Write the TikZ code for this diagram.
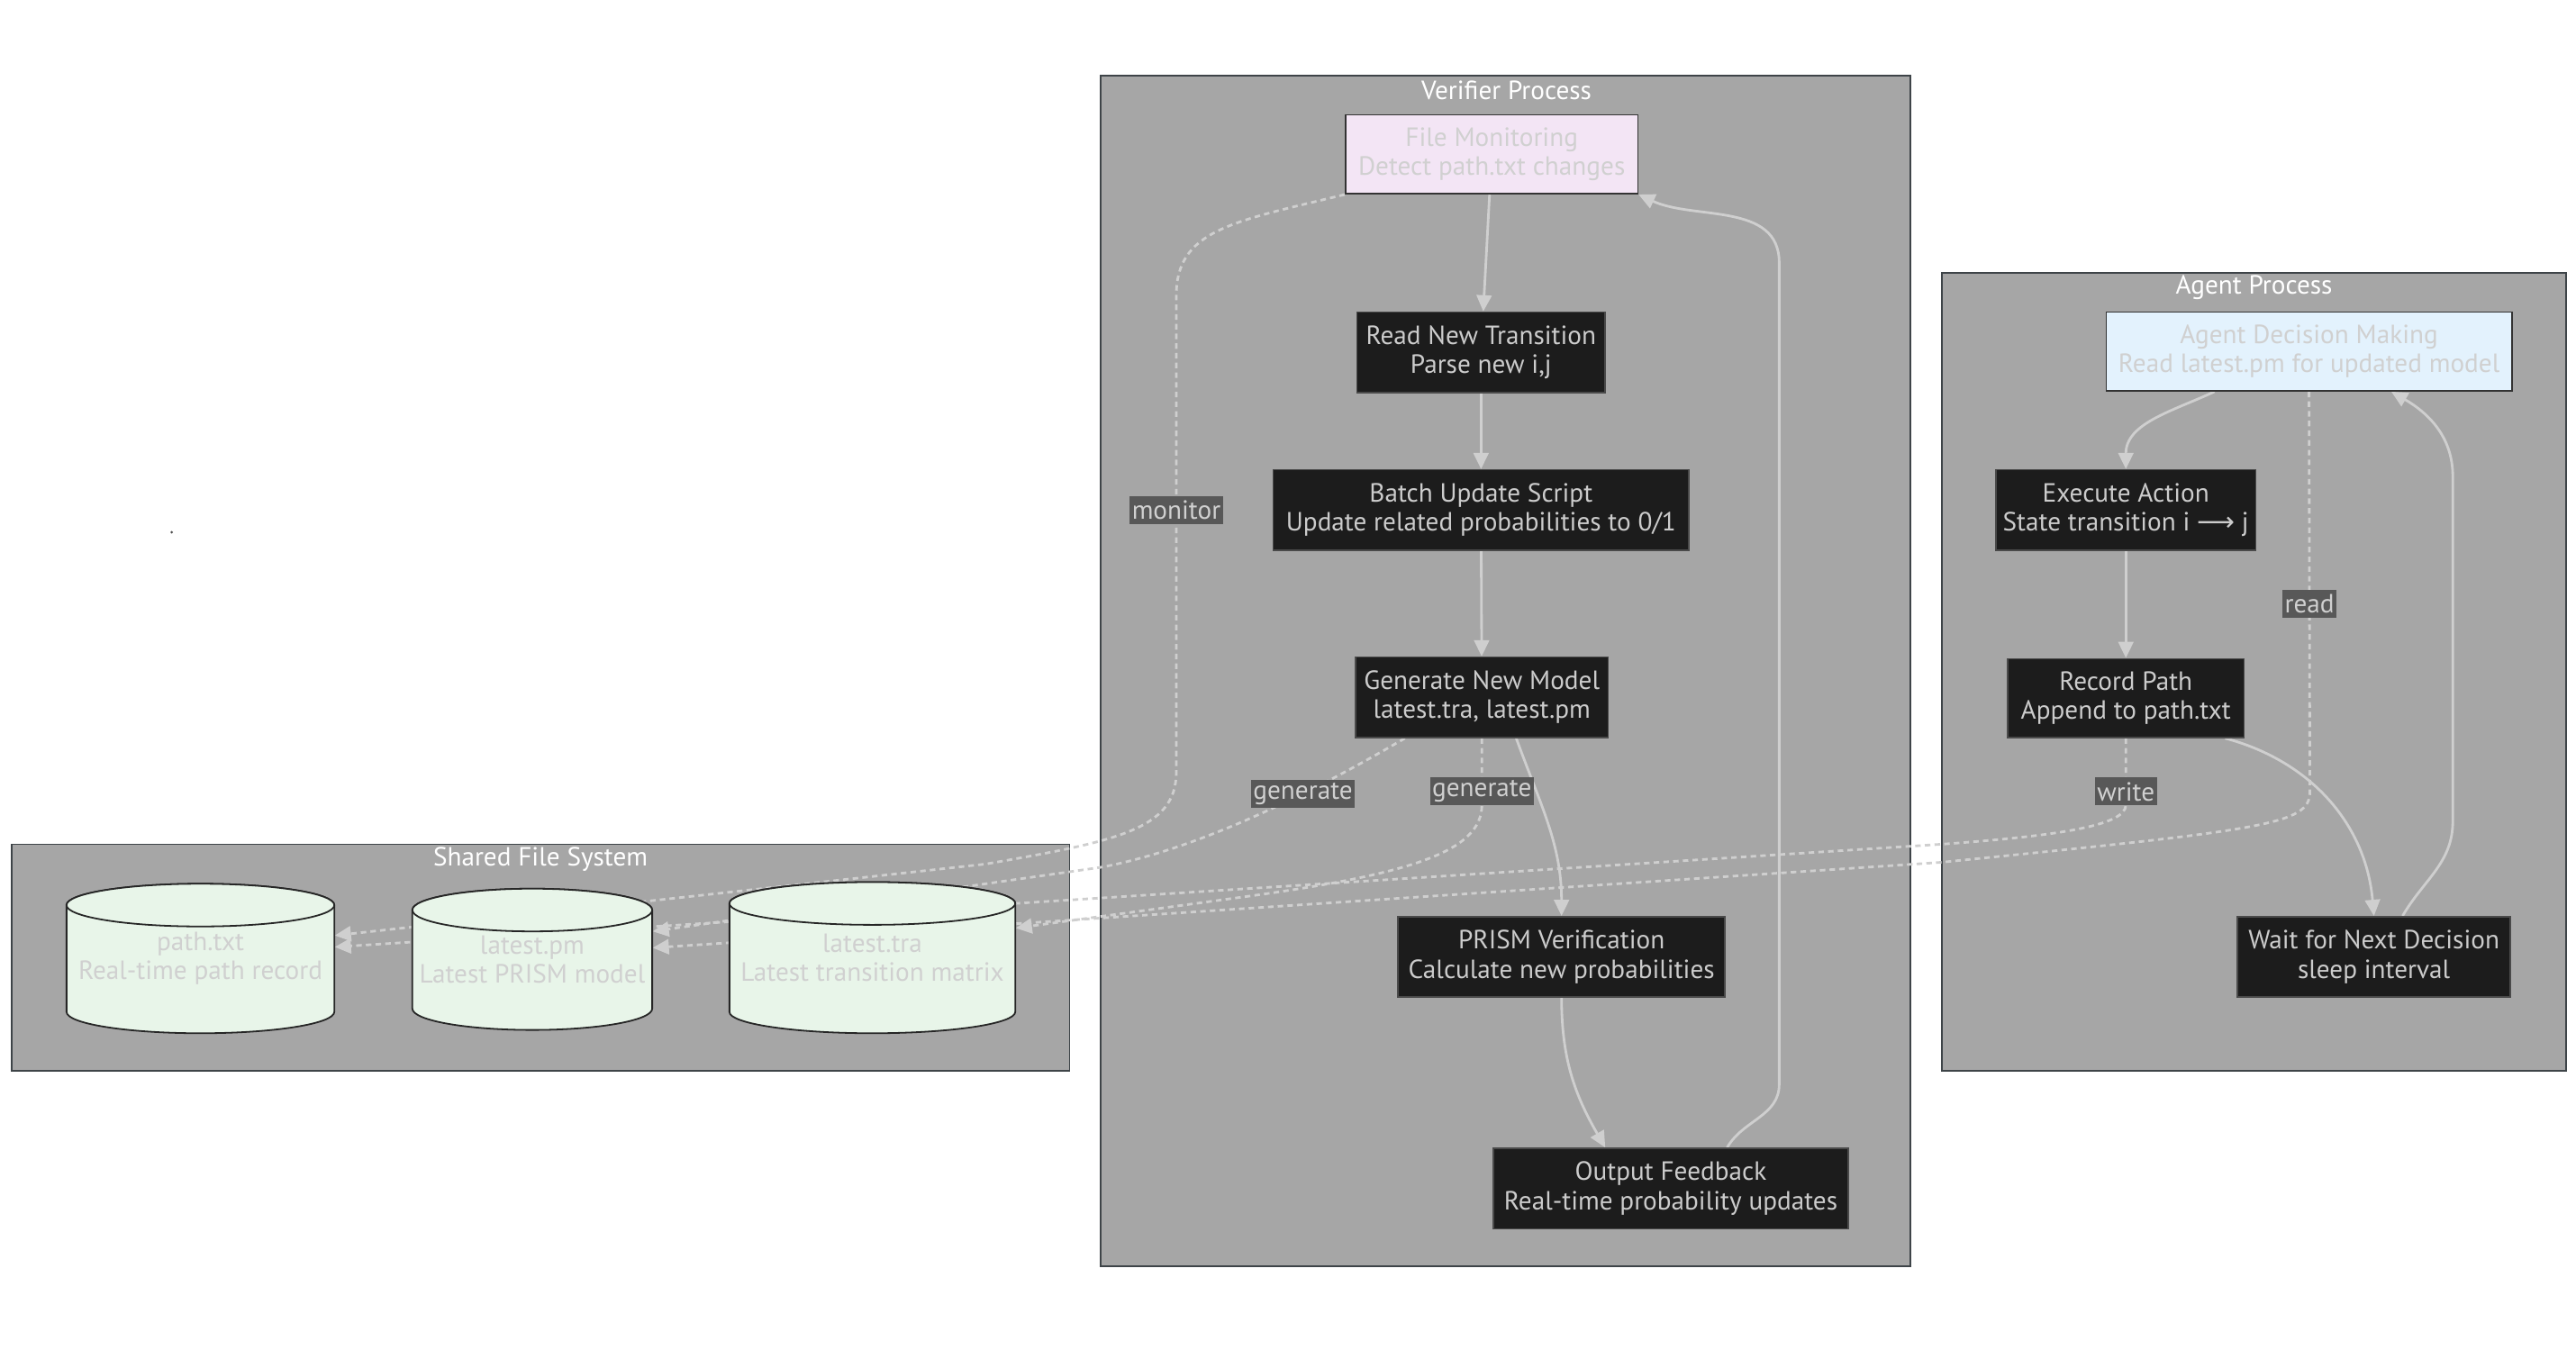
\documentclass[tikz,border=0pt]{standalone}
\usepackage{fontspec}
\usepackage{tikz}
\usetikzlibrary{arrows.meta}

\newfontfamily\diagfont{PT Sans}
\newfontfamily\symfont{DejaVu Sans}

\definecolor{clusterfill}{HTML}{A6A6A6}
\definecolor{clusterline}{HTML}{3E4448}
\definecolor{boxfill}{HTML}{1C1C1C}
\definecolor{boxline}{HTML}{4A4A4A}
\definecolor{boxtext}{HTML}{CCCCCC}
\definecolor{monfill}{HTML}{F3E5F5}
\definecolor{agentfill}{HTML}{E3F2FD}
\definecolor{dbfill}{HTML}{E8F5E9}
\definecolor{paletext}{HTML}{D0D0D0}
\definecolor{edgecol}{HTML}{CFCFCF}
\definecolor{labelfill}{HTML}{585858}

\pgfdeclarelayer{background}
\pgfdeclarelayer{edgelayer}
\pgfsetlayers{background,edgelayer,main}

\tikzset{
  cluster/.style={draw=clusterline, fill=clusterfill, line width=0.7pt},
  clustertitle/.style={text=white, inner sep=0pt, font=\diagfont\fontsize{11.4}{13}\selectfont},
  procbox/.style={draw=boxline, fill=boxfill, text=boxtext, align=center, inner sep=0pt,
    line width=0.6pt, minimum height=1.225cm, font=\diagfont\fontsize{11.4}{12.6}\selectfont},
  monbox/.style={procbox, draw=black!80, fill=monfill, text=paletext},
  agentbox/.style={procbox, draw=black!80, fill=agentfill, text=paletext},
  dbtext/.style={align=center, text=paletext, inner sep=0pt, font=\diagfont\fontsize{11.4}{12.6}\selectfont},
  dbshape/.style={draw=black!85, fill=dbfill, line width=0.7pt},
  flow/.style={draw=edgecol, line width=1.1pt, -{Triangle[length=7pt, width=6.5pt]}},
  dotflow/.style={flow, dash pattern=on 2.4pt off 1.8pt},
  elabel/.style={fill=labelfill, text=paletext, inner xsep=1pt, inner ysep=0pt,
    minimum height=0.425cm, font=\diagfont\fontsize{11.4}{13}\selectfont}
}

% cylinder: centre x, top y, bottom y, half width
\newcommand{\dbcyl}[4]{%
  \filldraw[dbshape] (#1-#4,#2+13) -- (#1-#4,#3-13)
    arc[start angle=180, end angle=360, x radius={#4*0.025cm}, y radius=0.325cm]
    -- (#1+#4,#2+13)
    arc[start angle=0, end angle=180, x radius={#4*0.025cm}, y radius=0.325cm] -- cycle;
  \draw[dbshape] (#1,#2+13) ellipse [x radius={#4*0.025cm}, y radius=0.325cm];
}

\begin{document}
\begin{tikzpicture}[x=0.025cm, y=-0.025cm]

\useasboundingbox (0,0) rectangle (1568,827.3);

% clusters
\begin{pgfonlayer}{background}
\draw[cluster] (670,46) rectangle (1163,771);
\draw[cluster] (1182,166) rectangle (1562,652);
\draw[cluster] (7,514) rectangle (651,652);
\end{pgfonlayer}
\node[clustertitle] (vtitle) at (917,55) {Verifier Process};
\node[clustertitle] (atitle) at (1372,175) {Agent Process};
\node[clustertitle] (stitle) at (329,523) {Shared File System};

\fill[black!70] (104.5,324) circle (0.6pt);

% verifier process
\node[monbox, minimum width=4.45cm, minimum height=1.2cm] (fm) at (908,94) {File Monitoring\\Detect path.txt changes};
\node[procbox, minimum width=3.775cm] (rnt) at (901.5,214.5) {Read New Transition\\Parse new i,j};
\node[procbox, minimum width=6.325cm] (bus) at (901.5,310.5) {Batch Update Script\\Update related probabilities to 0/1};
\node[procbox, minimum width=3.85cm] (gen) at (902,424.5) {Generate New Model\\latest.tra, latest.pm};
\node[procbox, minimum width=4.975cm] (prism) at (950.5,582.5) {PRISM Verification\\Calculate new probabilities};
\node[procbox, minimum width=5.4cm] (outfb) at (1017,723.5) {Output Feedback\\Real-time probability updates};

% agent process
\node[agentbox, minimum width=6.175cm, minimum height=1.2cm] (adm) at (1405.5,214) {Agent Decision Making\\Read latest.pm for updated model};
\node[procbox, minimum width=3.95cm] (exa) at (1294,310.5) {Execute Action\\State transition i {\symfont ⟶} j};
\node[procbox, minimum width=3.6cm, minimum height=1.2cm] (rec) at (1294,425) {Record Path\\Append to path.txt};
\node[procbox, minimum width=4.15cm] (wait) at (1445,582.5) {Wait for Next Decision\\sleep interval};

% shared file system
\dbcyl{122}{538}{629}{81.5}
\node[dbtext, minimum width=4.075cm, minimum height=2.275cm] (path) at (122,583.5) {path.txt\\Real-time path record};
\dbcyl{324}{541}{627}{73}
\node[dbtext, minimum width=3.65cm, minimum height=2.15cm] (pm) at (324,584) {latest.pm\\Latest PRISM model};
\dbcyl{531}{537}{629}{87}
\node[dbtext, minimum width=4.35cm, minimum height=2.3cm] (tra) at (531,583) {latest.tra\\Latest transition matrix};

\coordinate (fbdown) at (1083,660);
\coordinate (fbup) at (1083,160);
\coordinate (wtdown) at (1493,500);
\coordinate (wtup) at (1493,290);

\begin{pgfonlayer}{edgelayer}
\draw[flow] (fm) -- (rnt);
\draw[flow] (rnt) -- (bus);
\draw[flow] (bus) -- (gen);
\draw[flow] (gen.-50) to[out=-70,in=90] (prism.north);
\draw[flow] (prism.south) to[out=-90,in=120] (outfb.148);
\draw[flow] (outfb.36) to[out=60,in=-90] (fbdown) -- (fbup) to[out=90,in=-25] (fm.south east);

\draw[flow] (adm.-157) to[out=-155,in=90] (exa.north);
\draw[flow] (exa) -- (rec);
\draw[flow] (rec.-22) to[out=-15,in=95] (wait.north);
\draw[flow] (wait.55) to[out=60,in=-90] (wtdown) -- (wtup) to[out=90,in=-30] (adm.-26);

\draw[dotflow] (fm.south west) .. controls (750,135) and (716,140) .. (716,180)
  -- node[elabel, pos=0.45] {monitor} (716,470)
  .. controls (716,505) and (680,512) .. (600,526) -- ([yshift=0.35cm]path.east);
\draw[dotflow] (gen.-152) .. controls (820,470) and (740,515) .. (670,528)
  node[elabel, pos=0.41] {generate} -- ([yshift=0.425cm]pm.east);
\draw[dotflow] (gen.south) -- node[elabel, pos=0.8] {generate} (902,490)
  .. controls (902,518) and (860,532) .. (757,546) -- ([yshift=0.45cm]tra.east);
\draw[dotflow] (rec.south) -- node[elabel, pos=0.8] {write} (1294,490)
  .. controls (1294,503) and (1250,509) .. (1181,514) -- ([yshift=0.175cm]path.east);
\draw[dotflow] (adm.south) -- node[elabel, pos=0.53] {read} (1406,482)
  .. controls (1406,502) and (1380,505) .. (1181,525) -- ([yshift=0.175cm]pm.east);
\end{pgfonlayer}

\end{tikzpicture}
\end{document}
